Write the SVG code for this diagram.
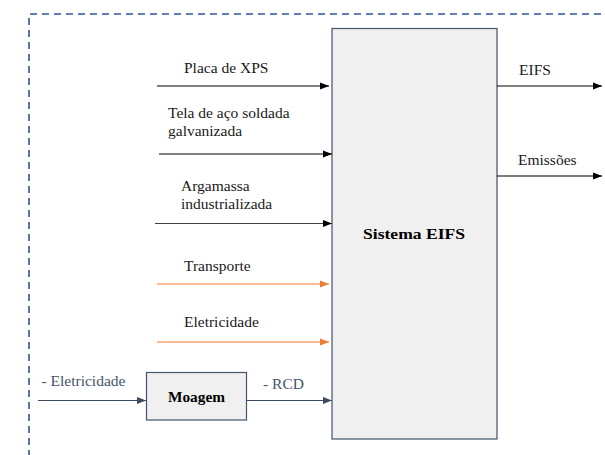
<svg xmlns="http://www.w3.org/2000/svg" width="605" height="455" viewBox="0 0 605 455">
  <style>
    .lbl { font-size: 15.5px; fill: #1a1a1a; }
    .slate { fill: #44546A; }
    .bold { font-weight: bold; fill: #000; }
    .box { fill: #f0f0f0; stroke: #44546A; stroke-width: 1.2; }
    .edge { fill: none; stroke-width: 1.2; }
    .blk { stroke: #000; }
    .dgr { stroke: #404040; }
    .org { stroke: #ED7D31; }
    .sl { stroke: #3B4A5E; }
    .frame { fill: none; stroke: #2F5597; stroke-width: 1.6; stroke-dasharray: 7 5; }
  </style>
  <defs>
    <marker id="ahBlack" markerUnits="userSpaceOnUse" markerWidth="10" markerHeight="8" refX="9" refY="4" orient="auto">
      <path d="M0,0.5 L9,4 L0,7.5 Z" fill="#000"/>
    </marker>
    <marker id="ahOrange" markerUnits="userSpaceOnUse" markerWidth="10" markerHeight="8" refX="9" refY="4" orient="auto">
      <path d="M0,0.5 L9,4 L0,7.5 Z" fill="#ED7D31"/>
    </marker>
    <marker id="ahSlate" markerUnits="userSpaceOnUse" markerWidth="10" markerHeight="8" refX="9" refY="4" orient="auto">
      <path d="M0,0.5 L9,4 L0,7.5 Z" fill="#3B4A5E"/>
    </marker>
  </defs>

  <!-- system boundary (dashed) -->
  <g id="boundary">
    <path class="frame" d="M30,14 H605"/>
    <path class="frame" d="M29,18 V455"/>
  </g>

  <!-- process nodes -->
  <g id="sistema-eifs">
    <rect class="box" x="332" y="28.5" width="165" height="410.5"/>
    <text class="lbl bold" font-family="Liberation Serif" x="414" y="239" text-anchor="middle" font-size="16.5" textLength="102" lengthAdjust="spacingAndGlyphs">Sistema EIFS</text>
  </g>
  <g id="moagem">
    <rect class="box" x="146.5" y="372.5" width="100" height="47.5"/>
    <text class="lbl bold" font-family="Liberation Serif" x="196.5" y="401.5" text-anchor="middle" textLength="57" lengthAdjust="spacingAndGlyphs">Moagem</text>
  </g>

  <!-- flows -->
  <g id="connectors">
    <path class="edge blk" d="M157,86 H329" marker-end="url(#ahBlack)"/>
    <path class="edge blk" d="M159,154 H332" marker-end="url(#ahBlack)"/>
    <path class="edge dgr" d="M155,223.5 H332" marker-end="url(#ahBlack)"/>
    <path class="edge org" d="M157,284 H329" marker-end="url(#ahOrange)"/>
    <path class="edge org" d="M157,342 H329" marker-end="url(#ahOrange)"/>
    <path class="edge sl" d="M38,400.5 H146" marker-end="url(#ahSlate)"/>
    <path class="edge sl" d="M246.5,400.5 H332" marker-end="url(#ahSlate)"/>
    <path class="edge blk" d="M497,86 H602" marker-end="url(#ahBlack)"/>
    <path class="edge blk" d="M497,176 H602" marker-end="url(#ahBlack)"/>
  </g>

  <!-- flow labels -->
  <g id="labels">
    <text class="lbl" font-family="Liberation Serif" x="184" y="73">Placa de XPS</text>
    <text class="lbl" font-family="Liberation Serif" x="168" y="118">Tela de aço soldada</text>
    <text class="lbl" font-family="Liberation Serif" x="168" y="136">galvanizada</text>
    <text class="lbl" font-family="Liberation Serif" x="181" y="191">Argamassa</text>
    <text class="lbl" font-family="Liberation Serif" x="181" y="209">industrializada</text>
    <text class="lbl" font-family="Liberation Serif" x="184" y="271">Transporte</text>
    <text class="lbl" font-family="Liberation Serif" x="184" y="327">Eletricidade</text>
    <text class="lbl slate" font-family="Liberation Serif" x="41.5" y="386">- Eletricidade</text>
    <text class="lbl slate" font-family="Liberation Serif" x="263" y="389">- RCD</text>
    <text class="lbl" font-family="Liberation Serif" x="519" y="75">EIFS</text>
    <text class="lbl" font-family="Liberation Serif" x="518" y="165">Emissões</text>
  </g>
</svg>
